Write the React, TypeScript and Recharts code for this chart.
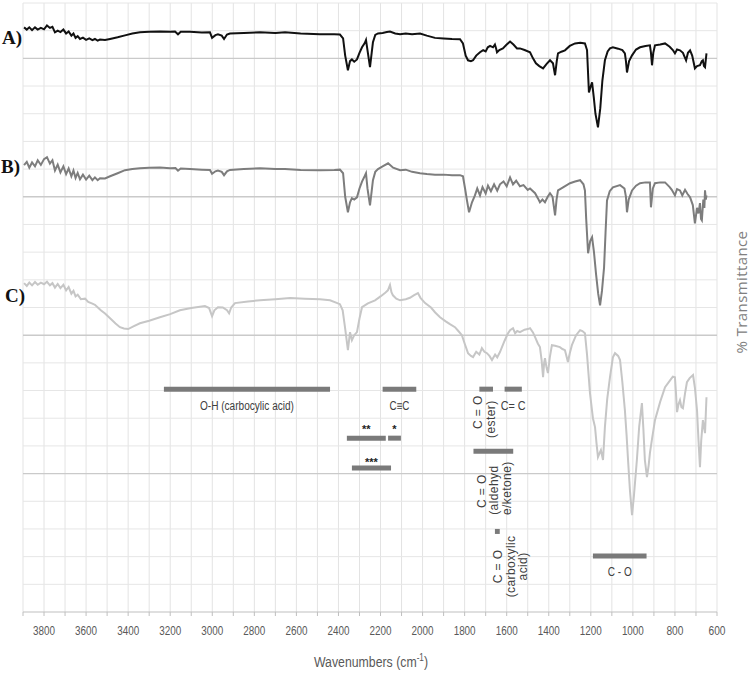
import React from "react"
import { LineChart, Line, XAxis, YAxis, CartesianGrid, ReferenceLine, ReferenceDot } from "recharts"

// wavenumber (cm-1), transmittance (stacked offset units)
const SPECTRUM_A = [
  [3895, 21.12], [3882, 21.04], [3870, 21.12], [3857, 21.02], [3843, 21.12], [3830, 21.04], [3815, 21.1], [3800, 21.05],
  [3786, 21.19], [3772, 21.1], [3760, 21.14], [3748, 20.94], [3735, 21.0], [3722, 20.95], [3708, 21.04], [3695, 20.9],
  [3683, 20.97], [3670, 20.82], [3660, 20.9], [3650, 20.74], [3640, 20.8], [3629, 20.7], [3615, 20.75], [3600, 20.67],
  [3585, 20.72], [3570, 20.66], [3558, 20.7], [3545, 20.64], [3534, 20.68], [3510, 20.66], [3486, 20.7], [3450, 20.76],
  [3415, 20.83], [3380, 20.9], [3344, 20.94], [3300, 20.96], [3249, 20.97], [3200, 20.96], [3177, 20.97], [3163, 20.87],
  [3150, 20.96], [3106, 20.96], [3050, 20.93], [3011, 20.94], [3001, 20.74], [2985, 20.84], [2973, 20.87], [2955, 20.82],
  [2944, 20.7], [2930, 20.86], [2916, 20.9], [2850, 20.92], [2773, 20.94], [2700, 20.92], [2654, 20.94], [2580, 20.9],
  [2488, 20.87], [2420, 20.87], [2393, 20.86], [2378, 20.72], [2368, 20.1], [2355, 19.57], [2345, 19.9], [2336, 19.96],
  [2325, 19.88], [2312, 19.96], [2300, 20.2], [2288, 20.4], [2275, 20.55], [2269, 20.66], [2262, 20.3], [2250, 19.68],
  [2242, 20.2], [2236, 20.58], [2225, 20.85], [2212, 20.9], [2190, 20.92], [2170, 20.95], [2155, 20.97], [2130, 20.9],
  [2107, 20.87], [2080, 20.9], [2050, 20.87], [2012, 20.9], [1980, 20.82], [1941, 20.74], [1900, 20.72], [1860, 20.7],
  [1822, 20.69], [1808, 20.54], [1795, 20.1], [1784, 19.93], [1770, 19.9], [1760, 19.93], [1745, 20.1], [1727, 20.22],
  [1712, 20.3], [1700, 20.25], [1690, 20.4], [1679, 20.45], [1665, 20.4], [1656, 20.5], [1650, 20.35], [1646, 20.22],
  [1635, 20.3], [1618, 20.36], [1600, 20.5], [1584, 20.61], [1568, 20.5], [1551, 20.36], [1537, 20.36], [1515, 20.3],
  [1489, 20.22], [1475, 20.0], [1461, 19.82], [1445, 19.72], [1427, 19.64], [1410, 19.8], [1394, 19.93], [1380, 19.82],
  [1370, 19.39], [1362, 19.9], [1356, 20.18], [1340, 20.24], [1323, 20.29], [1300, 20.45], [1275, 20.54], [1250, 20.56],
  [1228, 20.54], [1218, 20.3], [1209, 18.77], [1200, 19.0], [1194, 19.13], [1186, 18.6], [1178, 18.0], [1166, 17.51],
  [1155, 18.2], [1145, 19.2], [1133, 19.93], [1120, 20.25], [1109, 20.36], [1095, 20.4], [1070, 20.35], [1050, 20.3],
  [1038, 20.18], [1033, 19.9], [1028, 19.49], [1018, 19.9], [1004, 20.11], [985, 20.32], [966, 20.4], [940, 20.45],
  [919, 20.47], [914, 20.2], [909, 19.75], [903, 20.2], [895, 20.47], [870, 20.5], [847, 20.54], [825, 20.42],
  [810, 20.3], [800, 20.18], [790, 20.32], [776, 20.29], [762, 20.2], [747, 19.93], [738, 20.2], [728, 20.29],
  [718, 20.1], [705, 19.64], [695, 19.72], [681, 19.75], [672, 19.9], [667, 19.93], [662, 19.72], [657, 19.68], [650, 20.18],
]

const SPECTRUM_B = [
  [3895, 16.14], [3882, 16.26], [3870, 16.05], [3857, 16.24], [3843, 16.1], [3830, 16.32], [3815, 16.15], [3800, 16.36],
  [3786, 16.43], [3772, 16.2], [3760, 16.32], [3748, 15.95], [3735, 16.16], [3722, 15.88], [3708, 16.1], [3695, 15.82],
  [3683, 16.02], [3670, 15.74], [3660, 15.95], [3650, 15.68], [3640, 15.86], [3629, 15.63], [3615, 15.8], [3600, 15.62],
  [3585, 15.76], [3570, 15.6], [3558, 15.7], [3545, 15.6], [3534, 15.67], [3510, 15.66], [3486, 15.74], [3450, 15.85],
  [3415, 15.96], [3380, 16.0], [3344, 16.03], [3300, 16.05], [3249, 16.06], [3200, 16.03], [3175, 16.04], [3163, 15.94],
  [3150, 16.02], [3106, 16.0], [3050, 15.98], [3011, 15.97], [3001, 15.83], [2985, 15.92], [2973, 15.95], [2955, 15.9],
  [2944, 15.78], [2930, 15.92], [2916, 15.97], [2850, 16.0], [2773, 16.03], [2700, 16.0], [2654, 16.0], [2580, 15.97],
  [2488, 15.96], [2420, 15.97], [2393, 15.98], [2378, 15.85], [2368, 15.0], [2355, 14.44], [2345, 14.8], [2336, 14.95],
  [2325, 14.9], [2312, 14.98], [2300, 15.3], [2288, 15.55], [2275, 15.75], [2269, 15.85], [2262, 15.3], [2250, 14.69],
  [2242, 15.2], [2236, 15.6], [2225, 15.9], [2212, 16.0], [2190, 16.1], [2164, 16.21], [2140, 16.05], [2107, 15.96],
  [2080, 15.98], [2050, 15.9], [2012, 15.85], [1980, 15.82], [1941, 15.8], [1900, 15.8], [1860, 15.78], [1822, 15.78],
  [1808, 15.74], [1798, 15.3], [1789, 14.87], [1779, 14.44], [1765, 14.8], [1751, 15.05], [1740, 15.3], [1727, 15.05],
  [1715, 15.35], [1700, 15.12], [1689, 15.4], [1675, 15.2], [1660, 15.45], [1645, 15.22], [1632, 15.45], [1615, 15.55],
  [1600, 15.38], [1584, 15.7], [1570, 15.45], [1555, 15.58], [1537, 15.38], [1520, 15.42], [1500, 15.25], [1489, 15.3],
  [1465, 15.13], [1452, 14.95], [1442, 14.8], [1430, 14.9], [1418, 14.8], [1405, 15.0], [1394, 15.13], [1382, 15.0],
  [1370, 14.33], [1363, 14.9], [1356, 15.23], [1330, 15.35], [1299, 15.49], [1275, 15.55], [1251, 15.6], [1235, 15.45],
  [1228, 15.23], [1222, 14.2], [1213, 12.96], [1203, 13.4], [1194, 13.54], [1185, 13.0], [1175, 12.2], [1165, 11.5],
  [1156, 11.08], [1147, 11.6], [1137, 12.45], [1130, 13.7], [1123, 14.87], [1110, 15.2], [1095, 15.34], [1061, 15.42],
  [1040, 15.3], [1033, 15.0], [1028, 14.44], [1020, 14.9], [1004, 15.23], [985, 15.4], [966, 15.49], [940, 15.52],
  [919, 15.52], [914, 14.62], [905, 15.3], [895, 15.49], [870, 15.52], [847, 15.52], [825, 15.35], [815, 15.25],
  [800, 15.05], [790, 15.28], [776, 15.23], [765, 15.05], [752, 15.25], [740, 15.1], [728, 14.98], [715, 14.7],
  [705, 14.04], [695, 14.6], [688, 14.4], [681, 14.77], [676, 14.2], [672, 14.15], [665, 14.9], [660, 14.6],
  [657, 15.23], [653, 14.9], [650, 15.05],
]

const SPECTRUM_C = [
  [3895, 11.88], [3882, 11.78], [3870, 11.9], [3857, 11.8], [3843, 11.92], [3830, 11.82], [3815, 11.9], [3800, 11.84],
  [3786, 11.93], [3772, 11.8], [3760, 11.88], [3748, 11.72], [3735, 11.85], [3722, 11.7], [3708, 11.82], [3695, 11.62],
  [3683, 11.74], [3670, 11.5], [3660, 11.6], [3650, 11.4], [3640, 11.46], [3625, 11.3], [3605, 11.32], [3590, 11.2],
  [3570, 11.14], [3558, 11.1], [3530, 10.9], [3510, 10.78], [3486, 10.61], [3460, 10.42], [3439, 10.29], [3420, 10.24],
  [3400, 10.22], [3375, 10.32], [3344, 10.43], [3300, 10.52], [3249, 10.65], [3200, 10.76], [3154, 10.9], [3100, 10.98],
  [3035, 11.05], [3015, 10.98], [3001, 10.69], [2990, 10.9], [2973, 11.01], [2950, 11.0], [2930, 10.9], [2920, 10.79],
  [2910, 11.0], [2892, 11.16], [2830, 11.22], [2773, 11.26], [2700, 11.3], [2630, 11.34], [2560, 11.32], [2488, 11.3],
  [2440, 11.26], [2393, 11.12], [2380, 10.9], [2369, 10.29], [2355, 9.46], [2345, 10.11], [2336, 9.82], [2325, 10.0],
  [2312, 10.11], [2300, 10.6], [2288, 11.01], [2260, 11.15], [2226, 11.26], [2200, 11.4], [2179, 11.52], [2165, 11.62],
  [2155, 11.81], [2148, 11.55], [2141, 11.44], [2125, 11.32], [2107, 11.26], [2080, 11.3], [2060, 11.35], [2040, 11.45],
  [2022, 11.52], [2010, 11.35], [1988, 11.16], [1960, 11.0], [1940, 10.82], [1917, 10.65], [1890, 10.5], [1870, 10.4],
  [1846, 10.29], [1830, 10.15], [1813, 10.0], [1800, 9.7], [1784, 9.35], [1770, 9.25], [1760, 9.21], [1745, 9.4],
  [1730, 9.3], [1718, 9.53], [1706, 9.4], [1694, 9.35], [1682, 9.25], [1670, 9.1], [1655, 9.3], [1645, 9.2],
  [1632, 9.39], [1610, 9.8], [1595, 10.05], [1584, 10.18], [1570, 10.25], [1560, 10.07], [1550, 10.15], [1537, 10.11],
  [1515, 10.2], [1500, 10.22], [1489, 10.25], [1475, 10.1], [1465, 9.93], [1452, 9.7], [1442, 9.57], [1434, 9.1],
  [1427, 8.48], [1422, 9.0], [1418, 9.17], [1411, 8.85], [1404, 8.63], [1395, 9.2], [1385, 9.64], [1370, 9.62],
  [1347, 9.57], [1335, 9.5], [1323, 9.46], [1316, 9.25], [1309, 9.03], [1300, 9.35], [1290, 9.64], [1270, 10.0],
  [1251, 10.18], [1240, 10.15], [1228, 10.07], [1218, 9.3], [1204, 7.91], [1190, 7.0], [1180, 6.68], [1173, 6.1],
  [1166, 5.6], [1152, 5.85], [1142, 5.49], [1133, 6.68], [1122, 7.7], [1109, 8.48], [1095, 9.2], [1085, 9.35],
  [1070, 9.25], [1061, 9.1], [1050, 8.3], [1038, 7.29], [1030, 6.4], [1023, 5.49], [1014, 4.4], [1004, 3.5],
  [995, 4.2], [981, 5.49], [970, 6.7], [957, 7.55], [950, 6.6], [943, 5.49], [933, 4.87], [925, 5.3],
  [919, 5.74], [910, 6.2], [895, 6.93], [870, 7.6], [847, 8.12], [825, 8.35], [810, 8.5], [800, 8.48],
  [795, 7.9], [790, 7.22], [783, 7.5], [776, 7.65], [769, 7.4], [762, 7.36], [752, 7.9], [743, 8.3],
  [730, 8.45], [714, 8.56], [705, 8.1], [695, 7.29], [688, 6.2], [681, 5.23], [675, 6.2], [667, 6.93],
  [662, 6.7], [657, 6.46], [653, 7.2], [650, 7.76],
]

// band assignment ranges: [from, to, level]
const BAND_OH = [3230, 2440, 8.05]
const BAND_CC_TRIPLE = [2190, 2030, 8.05]
const BAND_CO_ESTER = [1730, 1665, 8.05]
const BAND_CC_DOUBLE = [1610, 1528, 8.05]
const BAND_STAR2 = [2360, 2175, 6.28]
const BAND_STAR1 = [2164, 2103, 6.28]
const BAND_STAR3 = [2336, 2150, 5.2]
const BAND_CO_ALDKET = [1758, 1569, 5.81]
const BAND_CO_ACID = [1656, 1633, 2.91]
const BAND_C_O = [1190, 935, 2.02]

const WN_TICKS = [
  3900, 3800, 3700, 3600, 3500, 3400, 3300, 3200, 3100, 3000, 2900, 2800, 2700, 2600, 2500, 2400, 2300, 2200,
  2100, 2000, 1900, 1800, 1700, 1600, 1500, 1400, 1300, 1200, 1100, 1000, 900, 800, 700, 600,
]
const Y_MINOR = [1, 2, 3, 4, 6, 7, 8, 9, 11, 12, 13, 14, 16, 17, 18, 19, 21, 22]
const Y_MAJOR = [5, 10, 15, 20]

const SANS = "'Liberation Sans', Arial, sans-serif"
const BAR_GREY = "#7a7a7a"
const TEXT_GREY = "#404040"

const toRows = (pts: number[][]) => pts.map(([wn, t]) => ({ wn, t }))

const Bar = ({ band }: { band: number[] }) => (
  <ReferenceLine
    segment={[{ x: band[0], y: band[2] }, { x: band[1], y: band[2] }]}
    stroke={BAR_GREY}
    strokeWidth={5}
  />
)

// text put next to a band, offsets in px from the band centre
// eslint-disable-next-line @typescript-eslint/no-explicit-any
const note = (band: number[], draw: (cx: number, cy: number) => any) => (
  <ReferenceDot
    x={(band[0] + band[1]) / 2}
    y={band[2]}
    r={0}
    ifOverflow="visible"
    // eslint-disable-next-line @typescript-eslint/no-explicit-any
    shape={(p: any) => draw(p.cx, p.cy)}
  />
)

const flat = (text: string, dy: number, width?: number) => (cx: number, cy: number) => (
  <text
    x={cx}
    y={cy + dy}
    textAnchor="middle"
    fontFamily={SANS}
    fontSize={12}
    fill={TEXT_GREY}
    textLength={width}
    lengthAdjust={width ? "spacingAndGlyphs" : undefined}
  >
    {text}
  </text>
)

const stars = (text: string, dy: number) => (cx: number, cy: number) => (
  <text x={cx} y={cy + dy} textAnchor="middle" fontFamily={SANS} fontSize={11} fontWeight="bold" fill="#222">
    {text}
  </text>
)

const upright = (lines: string[], dxs: number[], dys: number[]) => (cx: number, cy: number) => (
  <g>
    {lines.map((s, i) => (
      <text
        key={i}
        transform={`translate(${cx + dxs[i]} ${cy + dys[i]}) rotate(-90)`}
        textAnchor="middle"
        dominantBaseline="central"
        fontFamily={SANS}
        fontSize={12}
        letterSpacing={0.4}
        fill={TEXT_GREY}
      >
        {s}
      </text>
    ))}
  </g>
)

// eslint-disable-next-line @typescript-eslint/no-explicit-any
const WnTick = ({ x, y, payload }: any) => {
  const v = payload.value
  if (v % 200 !== 0) return <g />
  return (
    <text
      x={x}
      y={y}
      dy={17}
      textAnchor="middle"
      fontFamily={SANS}
      fontSize={12}
      fill="#595959"
      textLength={v >= 1000 ? 22 : 17}
      lengthAdjust="spacingAndGlyphs"
    >
      {v}
    </text>
  )
}

const traceLabel = (text: string, level: number, dx: number) => (
  <ReferenceDot
    x={3900}
    y={level}
    r={0}
    ifOverflow="visible"
    // eslint-disable-next-line @typescript-eslint/no-explicit-any
    shape={(p: any) => (
      <text x={p.cx + dx} y={p.cy} textAnchor="end" fontFamily="'Liberation Serif', serif" fontWeight="bold" fontSize={19} fill="#111">
        {text}
      </text>
    )}
  />
)

export default function App() {
  return (
    <div style={{ position: "absolute", left: 0, top: 0, width: 750, height: 675, background: "#fff" }}>
      <LineChart width={750} height={675} margin={{ top: 3, right: 0, left: 23, bottom: 0 }}>
        <CartesianGrid stroke="#e3e3e3" horizontal={false} />

        {Y_MINOR.map((v) => (
          <ReferenceLine key={`g${v}`} y={v} stroke="#e6e6e6" strokeWidth={1} />
        ))}
        {Y_MAJOR.map((v) => (
          <ReferenceLine key={`m${v}`} y={v} stroke="#cacaca" strokeWidth={1.4} />
        ))}

        <XAxis
          type="number"
          dataKey="wn"
          domain={[600, 3900]}
          reversed
          ticks={WN_TICKS}
          interval={0}
          tickSize={4}
          tick={<WnTick />}
          stroke="#bfbfbf"
          height={63}
          allowDataOverflow
          label={{
            position: "insideBottom",
            content: () => (
              <text transform="translate(371 667) scale(0.82 1)" textAnchor="middle" fontFamily={SANS} fontSize={15} fill="#595959">
                Wavenumbers (cm
                <tspan dy={-6} fontSize={10}>-1</tspan>
                <tspan dy={6}>)</tspan>
              </text>
            ),
          }}
        />
        <YAxis
          orientation="right"
          type="number"
          domain={[0, 22]}
          width={33}
          tick={false}
          tickLine={false}
          axisLine={false}
          label={{
            position: "insideRight",
            content: () => (
              <text
                transform="translate(741 292) rotate(-90)"
                textAnchor="middle"
                dominantBaseline="central"
                fontFamily="'Open Sans', sans-serif"
                fontSize={15}
                letterSpacing={0.4}
                fill="#808080"
              >
                % Transmittance
              </text>
            ),
          }}
        />

        <Line data={toRows(SPECTRUM_C)} dataKey="t" type="linear" stroke="#c6c6c6" strokeWidth={2} dot={false} isAnimationActive={false} />
        <Line data={toRows(SPECTRUM_B)} dataKey="t" type="linear" stroke="#7d7d7d" strokeWidth={2} dot={false} isAnimationActive={false} />
        <Line data={toRows(SPECTRUM_A)} dataKey="t" type="linear" stroke="#111111" strokeWidth={2} dot={false} isAnimationActive={false} />

        <Bar band={BAND_OH} />
        <Bar band={BAND_CC_TRIPLE} />
        <Bar band={BAND_CO_ESTER} />
        <Bar band={BAND_CC_DOUBLE} />
        <Bar band={BAND_STAR2} />
        <Bar band={BAND_STAR1} />
        <Bar band={BAND_STAR3} />
        <Bar band={BAND_CO_ALDKET} />
        <Bar band={BAND_CO_ACID} />
        <Bar band={BAND_C_O} />

        {note(BAND_OH, flat("O-H (carbocylic acid)", 21, 94))}
        {note(BAND_CC_TRIPLE, flat("C≡C", 21, 20))}
        {note(BAND_CC_DOUBLE, flat("C= C", 21, 25))}
        {note(BAND_C_O, flat("C - O", 20, 24))}
        {note(BAND_STAR2, stars("**", -5))}
        {note(BAND_STAR1, stars("*", -5))}
        {note(BAND_STAR3, stars("***", -2))}
        {note(BAND_CO_ESTER, upright(["C = O", "(ester)"], [-8, 5], [23, 30]))}
        {note(BAND_CO_ALDKET, upright(["C = O", "(aldehyd", "e/ketone)"], [-11, 1, 14], [40, 39, 37]))}
        {note(BAND_CO_ACID, upright(["C = O", "(carboxylic", "acid)"], [1, 14, 26], [35, 35, 35]))}

        {traceLabel("A)", 20.51, -1)}
        {traceLabel("B)", 15.85, -3)}
        {traceLabel("C)", 11.19, 2)}
      </LineChart>
    </div>
  )
}
